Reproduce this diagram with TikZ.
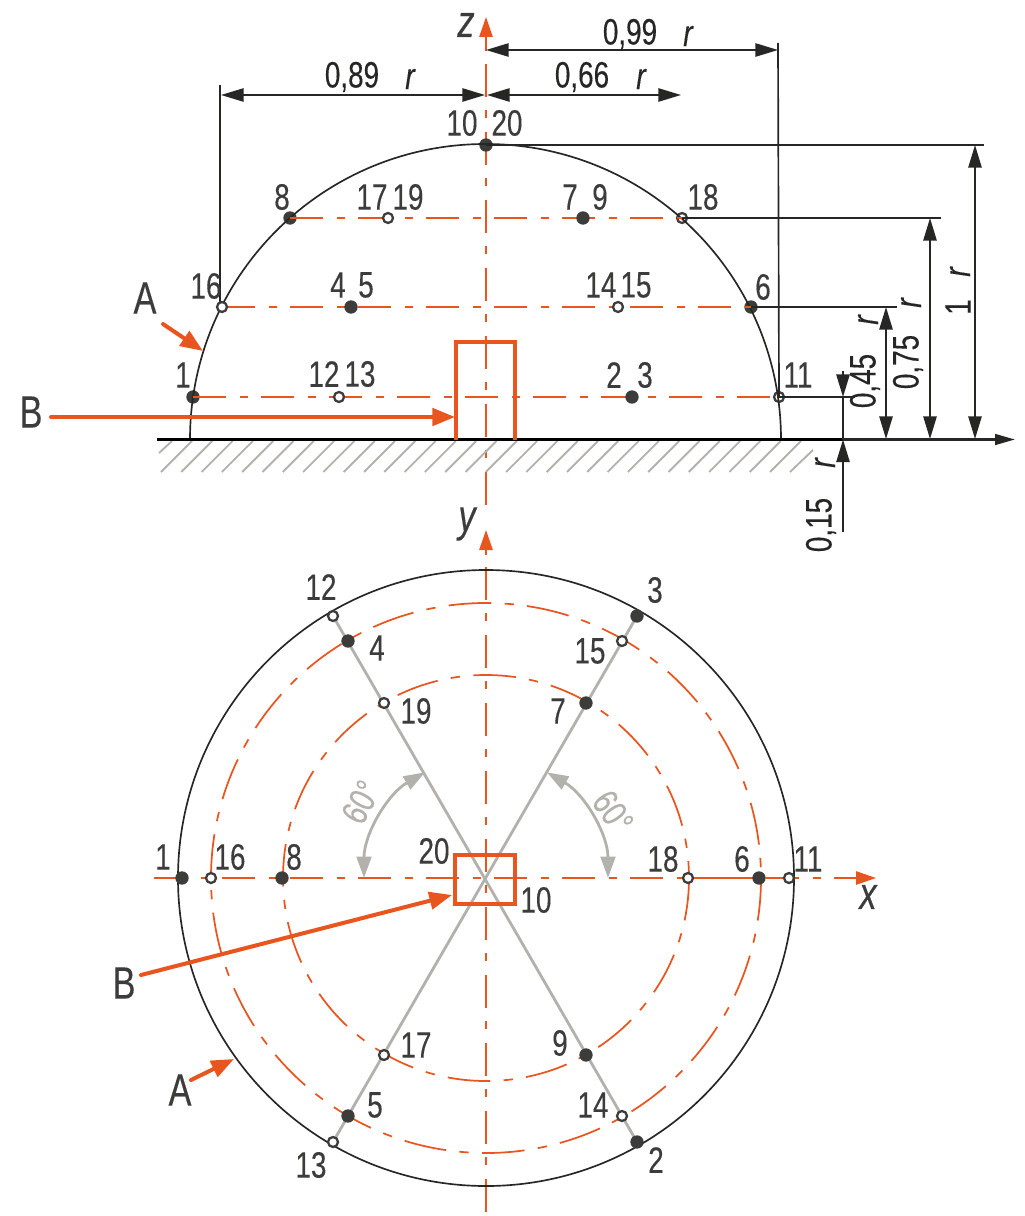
\documentclass[tikz,border=0pt]{standalone}
\usepackage{fontspec}
\setmainfont[FakeStretch=0.76,FakeBold=0.25]{Liberation Sans}
\usetikzlibrary{arrows.meta}
\definecolor{org}{HTML}{E9551F}
\definecolor{txt}{HTML}{3C3C3B}
\definecolor{blk}{HTML}{262624}
\definecolor{gry}{HTML}{B2B1AC}
\tikzset{
  lab/.style={inner sep=0pt,text=txt,font=\fontsize{27.5}{28}\selectfont},
  big/.style={inner sep=0pt,text=txt,font=\fontsize{34}{34}\selectfont},
  ital/.style={inner sep=0pt,text=blk,font=\fontsize{28}{28}\selectfont\itshape},
  axname/.style={inner sep=0pt,text=txt,font=\fontsize{34}{34}\selectfont\itshape},
  pf/.style={circle,fill=txt,inner sep=0pt,minimum size=10pt},
  po/.style={circle,draw=txt,fill=white,line width=1.7pt,inner sep=0pt,minimum size=7.5pt},
  thinblk/.style={draw=blk,line width=1.25pt},
  dimarr/.style={draw=blk,line width=1.25pt,{Triangle[length=17pt,width=10pt]}-{Triangle[length=17pt,width=10pt]}},
  dimone/.style={draw=blk,line width=1.25pt,-{Triangle[length=17pt,width=10pt]}},
  cline/.style={draw=org,line width=1.3pt,dash pattern=on 25pt off 10pt on 6pt off 10pt},
  cring/.style={draw=org,line width=1.3pt,dash pattern=on 32pt off 10pt on 7pt off 10pt},
  axarr/.style={draw=org,line width=1.3pt,-{Triangle[length=15pt,width=10pt]}},
  orgbox/.style={draw=org,line width=2.6pt},
  orgarr/.style={draw=org,line width=3pt,line cap=round,-{Triangle[length=17pt,width=13pt]}},
  grayline/.style={draw=gry,line width=2.1pt},
  grayarc/.style={draw=gry,line width=2.1pt,{Triangle[length=16pt,width=11pt]}-{Triangle[length=16pt,width=11pt]}},
  hatchline/.style={draw=gry,line width=1.4pt},
}
\begin{document}
\begin{tikzpicture}[x=0.75pt,y=-0.75pt]
\useasboundingbox (0,0) rectangle (1024,1216);
% ---------- coordinates
\coordinate (O1) at (486,439.5);
\coordinate (O2) at (486,878);
% ---------- axes
\coordinate (zb) at (486,505); \coordinate (zt) at (486,50); \coordinate (ztip) at (486,17);
\draw[cline] (zb) -- (zt);
\draw[axarr] (zt) -- (ztip);
\coordinate (yb) at (486,1212); \coordinate (yt) at (486,555); \coordinate (ytip) at (486,530);
\draw[cline] (yb) -- (yt);
\draw[axarr] (yt) -- (ytip);
\coordinate (xb) at (154,878); \coordinate (xt) at (850,878); \coordinate (xtip) at (876,878);
\draw[cline] (xb) -- (xt);
\draw[axarr] (xt) -- (xtip);
% ---------- hatching
\foreach \i in {0,...,30}{
  \draw[hatchline] ({161+20.3*\i},472) -- ({192+20.3*\i},441);
}
\draw[hatchline] (159,453) -- (172,441);
\draw[hatchline] (790,472) -- (813,450);
% ---------- elevation points
\node[pf] (e1) at (193,397) {};
\coordinate (e16) at (222,307);
\node[pf] (e8) at (290,218) {};
\node[pf] (e10) at (486,145) {};
\node[po] (e18) at (682,218) {};
\node[pf] (e6) at (751,307) {};
\node[po] (e11) at (779,397) {};
% dome
\draw[thinblk] (190,439.5) arc[start angle=180,end angle=360,radius=295.5];
% centre lines of elevation
\draw[cline] (e8.center) -- (e18.center);
\draw[cline] (e16) -- (e6.center);
\draw[cline] (e1.center) -- (e11.center);
% ---------- ground line
\coordinate (g0) at (157,439.5); \coordinate (gm) at (843,439.5); \coordinate (g1) at (1015,439.5);
\draw[draw=black,line width=2.1pt] (g0) -- (gm);
\draw[draw=blk,line width=1.9pt,-{Triangle[length=15pt,width=8pt]}] (gm) -- (g1);
% ---------- box elevation
\coordinate (b1) at (456,439.5); \coordinate (b2) at (456,342); \coordinate (b3) at (515,342); \coordinate (b4) at (515,439.5);
\draw[orgbox] (b1) -- (b2) -- (b3) -- (b4);
% ---------- dimension extensions
\coordinate (x16t) at (220,85); \coordinate (x16b) at (220,307); \coordinate (x99t) at (778,43);
\draw[thinblk] (x16t) -- (x16b);
\draw[thinblk] (x99t) -- (e11.center);
\coordinate (h10) at (984,145); \coordinate (h18) at (941,218); \coordinate (h6) at (897,307); \coordinate (h11) at (855,397);
\draw[thinblk] (e10.center) -- (h10);
\draw[thinblk] (e18.center) -- (h18);
\draw[thinblk] (e6.center) -- (h6);
\draw[thinblk] (e11.center) -- (h11);
% dimension lines
\coordinate (d89a) at (221,95); \coordinate (d89b) at (485,95); \coordinate (d66a) at (487,95); \coordinate (d66b) at (681,95);
\coordinate (d99a) at (486,50); \coordinate (d99b) at (778,50);
\draw[dimarr] (d89a) -- (d89b);
\draw[dimarr] (d66a) -- (d66b);
\draw[dimarr] (d99a) -- (d99b);
\coordinate (v1a) at (975,145); \coordinate (v1b) at (975,439);
\coordinate (v2a) at (930,218); \coordinate (v2b) at (930,439);
\coordinate (v3a) at (886,307); \coordinate (v3b) at (886,439);
\draw[dimarr] (v1a) -- (v1b);
\draw[dimarr] (v2a) -- (v2b);
\draw[dimarr] (v3a) -- (v3b);
\coordinate (v4t) at (843,371); \coordinate (v4m) at (843,397); \coordinate (v4b) at (843,439.5); \coordinate (v5b) at (843,532);
\draw[dimone] (v4t) -- (v4m);
\draw[draw=blk,line width=2.2pt] (v4m) -- (v4b);
\draw[dimone] (v5b) -- (v4b);
% ---------- elevation point nodes on top
\node[po] (e16o) at (e16) {};
\node[po] (e1213) at (339,397) {};
\node[pf] (e45) at (351,307) {};
\node[po] (e1719) at (388,218) {};
\node[pf] (e79) at (583,218) {};
\node[po] (e1415) at (618,307) {};
\node[pf] (e23) at (632,397) {};
% ---------- plan
\draw[thinblk] (O2) circle[radius=308];
\draw[cring] (O2) circle[radius=275];
\draw[cring] (O2) circle[radius=203];
\coordinate (g12) at (333,616); \coordinate (g2) at (637,1142);
\coordinate (g3) at (637,616); \coordinate (g13) at (333,1142);
\draw[grayline] (g12) -- (g2);
\draw[grayline] (g3) -- (g13);
\node[po] (p12) at (g12) {};
\node[pf] (p4) at (348,641) {};
\node[po] (p19) at (384,703) {};
\node[pf] (p3) at (g3) {};
\node[po] (p15) at (622,641) {};
\node[pf] (p7) at (586,703) {};
\node[po] (p17) at (384,1055) {};
\node[pf] (p5) at (348,1116) {};
\node[po] (p13) at (g13) {};
\node[pf] (p9) at (586,1055) {};
\node[po] (p14) at (622,1116) {};
\node[pf] (p2) at (g2) {};
\node[pf] (p1) at (182,878) {};
\node[po] (p16) at (211,878) {};
\node[pf] (p8) at (282,878) {};
\node[po] (p18) at (688,878) {};
\node[pf] (p6) at (759,878) {};
\node[po] (p11) at (789,878) {};
\draw[draw=org,line width=1.3pt] (p18) -- (p6);
\draw[orgbox] (455,855) rectangle (515,904);
% ---------- angle arcs
\draw[grayarc] (364,878) arc[start angle=180,end angle=240,radius=122];
\draw[grayarc] (608,878) arc[start angle=0,end angle=-60,radius=122];
\node[lab,text=gry,rotate=62] (a60l) at (361,802) {60°};
\node[lab,text=gry,rotate=-55] (a60r) at (613,812) {60°};
% ---------- orange arrows
\coordinate (Bt1) at (51,417); \coordinate (Bt2) at (455,417);
\draw[orgarr] (Bt1) -- (Bt2);
\coordinate (Bb1) at (141,975); \coordinate (Bb2) at (452,895);
\draw[orgarr] (Bb1) -- (Bb2);
\coordinate (At1) at (163,324); \coordinate (At2) at (203,351);
\draw[orgarr] (At1) -- (At2);
\coordinate (Ab1) at (191,1080); \coordinate (Ab2) at (234,1059);
\draw[orgarr] (Ab1) -- (Ab2);
% ---------- letters
\node[big] (lAt) at (145,298) {A};
\node[big] (lBt) at (31,412) {B};
\node[big] (lBb) at (124,983) {B};
\node[big] (lAb) at (180,1090) {A};
\node[axname] (lz) at (466,25) {z};
\node[axname] (ly) at (467,524) {y};
\node[axname] (lx) at (868,897) {x};
% ---------- elevation labels
\foreach \t/\x/\y in {10/462/123,20/507/123,8/282/197,17/372/197,19/408/197,7/570/197,9/600/197,18/703/197,16/206/286,4/338/285,5/366/285,14/601/285,15/636/285,6/763/287,1/183/375,12/324/374,13/360/374,2/614/375,3/645/375,11/798/375}
  \node[lab] (te\t) at (\x,\y) {\t};
% ---------- plan labels
\foreach \t/\x/\y in {12/321/587,3/655/590,4/377/648,15/590/651,19/416/711,7/558/711,1/163/857,16/230/857,8/294/857,20/434/851,18/663/859,6/742/859,11/808/859,10/536/900,17/416/1045,9/560/1043,5/375/1105,14/593/1105,13/311/1165,2/656/1160}
  \node[lab] (tp\t) at (\x,\y) {\t};
% ---------- dimension labels
\node[lab,text=blk] (n89) at (352,77) {0,89};
\node[ital] (r89) at (410,79) {r};
\node[lab,text=blk] (n66) at (582,77) {0,66};
\node[ital] (r66) at (641,79) {r};
\node[lab,text=blk] (n99) at (630,34) {0,99};
\node[ital] (r99) at (688,36) {r};
\node[lab,text=blk,rotate=90] (n1) at (958,307) {1};
\node[ital,rotate=90] (r1) at (960,272) {r};
\node[lab,text=blk,rotate=90] (n75) at (908,362) {0,75};
\node[ital,rotate=90] (r75) at (911,303) {r};
\node[lab,text=blk,rotate=90] (n45) at (865,381) {0,45};
\node[ital,rotate=90] (r45) at (868,320) {r};
\node[lab,text=blk,rotate=90] (n15) at (821,525) {0,15};
\node[ital,rotate=90] (r15) at (825,463) {r};
\end{tikzpicture}
\end{document}
